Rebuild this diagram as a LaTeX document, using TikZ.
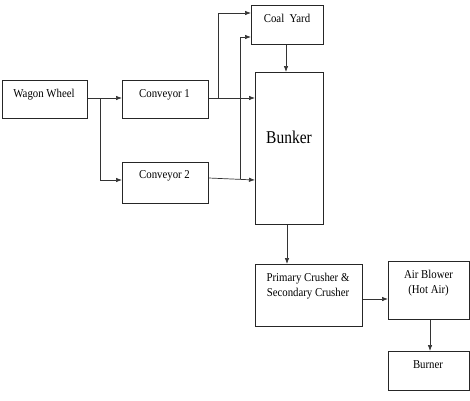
\documentclass[tikz,border=0pt]{standalone}
\usepackage{fontspec}
\setmainfont{Liberation Serif}
\usetikzlibrary{arrows.meta}
\newcommand\cnd[1]{\scalebox{0.9}[1]{#1}}
\begin{document}
\begin{tikzpicture}[x=1pt,y=-1pt,
  box/.style={draw=black!85, line width=0.8pt, rectangle, inner sep=0pt, anchor=north west},
  lbl/.style={font=\fontsize{12}{15}\selectfont, align=center, inner sep=0pt},
  arr/.style={draw=black!80, line width=0.7pt, -{Latex[length=6pt,width=4.5pt]}},
  ln/.style={draw=black!80, line width=0.7pt}]
\useasboundingbox (0,0) rectangle (470,400);
% boxes
\node[box, minimum width=85pt, minimum height=38pt] (ww) at (2,80) {};
\node[box, minimum width=86pt, minimum height=38pt] (c1) at (122,80) {};
\node[box, minimum width=86pt, minimum height=41pt] (c2) at (122,162) {};
\node[box, minimum width=72pt, minimum height=39pt] (cy) at (251,5) {};
\node[box, minimum width=68pt, minimum height=152pt] (bk) at (255,72) {};
\node[box, minimum width=107pt, minimum height=62pt] (pc) at (255,264) {};
\node[box, minimum width=81pt, minimum height=58pt] (ab) at (388,261) {};
\node[box, minimum width=81pt, minimum height=39pt] (bu) at (388,351) {};
% labels
\node[lbl, anchor=base] (tww) at (44,97) {\cnd{Wagon Wheel}};
\node[lbl, anchor=base] (tc1) at (164.5,97.5) {\cnd{Conveyor 1}};
\node[lbl, anchor=base] (tc2) at (164.5,178.5) {\cnd{Conveyor 2}};
\node[lbl, anchor=base] (tcy) at (287,22) {\cnd{Coal\ \ Yard}};
\node[lbl, anchor=base, font=\fontsize{18}{20}\selectfont] (tbk) at (289,143.5) {\scalebox{0.86}[1]{Bunker}};
\node[lbl] (tpc) at (308,286) {\cnd{Primary Crusher \&}\\\cnd{Secondary Crusher}};
\node[lbl] (tab) at (428.5,283) {\cnd{Air Blower}\\\cnd{(Hot Air)}};
\node[lbl, anchor=base] (tbu) at (428,368) {\cnd{Burner}};
% connectors
\coordinate (j1) at (100,98);
\coordinate (j2) at (218,98);
\coordinate (j3) at (240,179);
\draw[arr] (ww.east |- j1) -- (c1.west |- j1);
\draw[arr] (j1) |- (c2.west |- 0,180);
\draw[arr] (c1.east |- j2) -- (bk.west |- j2);
\draw[arr] (j2) |- (cy.west |- 0,13);
\draw[arr] (c2.east |- 0,178) -- (bk.west |- 0,180);
\draw[arr] (j3) |- (cy.west |- 0,37);
\draw[arr] (cy.south -| 286,0) -- (bk.north -| 286,0);
\draw[arr] (bk.south -| 287,0) -- (pc.north -| 287,0);
\draw[arr] (pc.east |- 0,299) -- (ab.west |- 0,299);
\draw[arr] (ab.south -| 430,0) -- (bu.north -| 430,0);
\end{tikzpicture}
\end{document}
